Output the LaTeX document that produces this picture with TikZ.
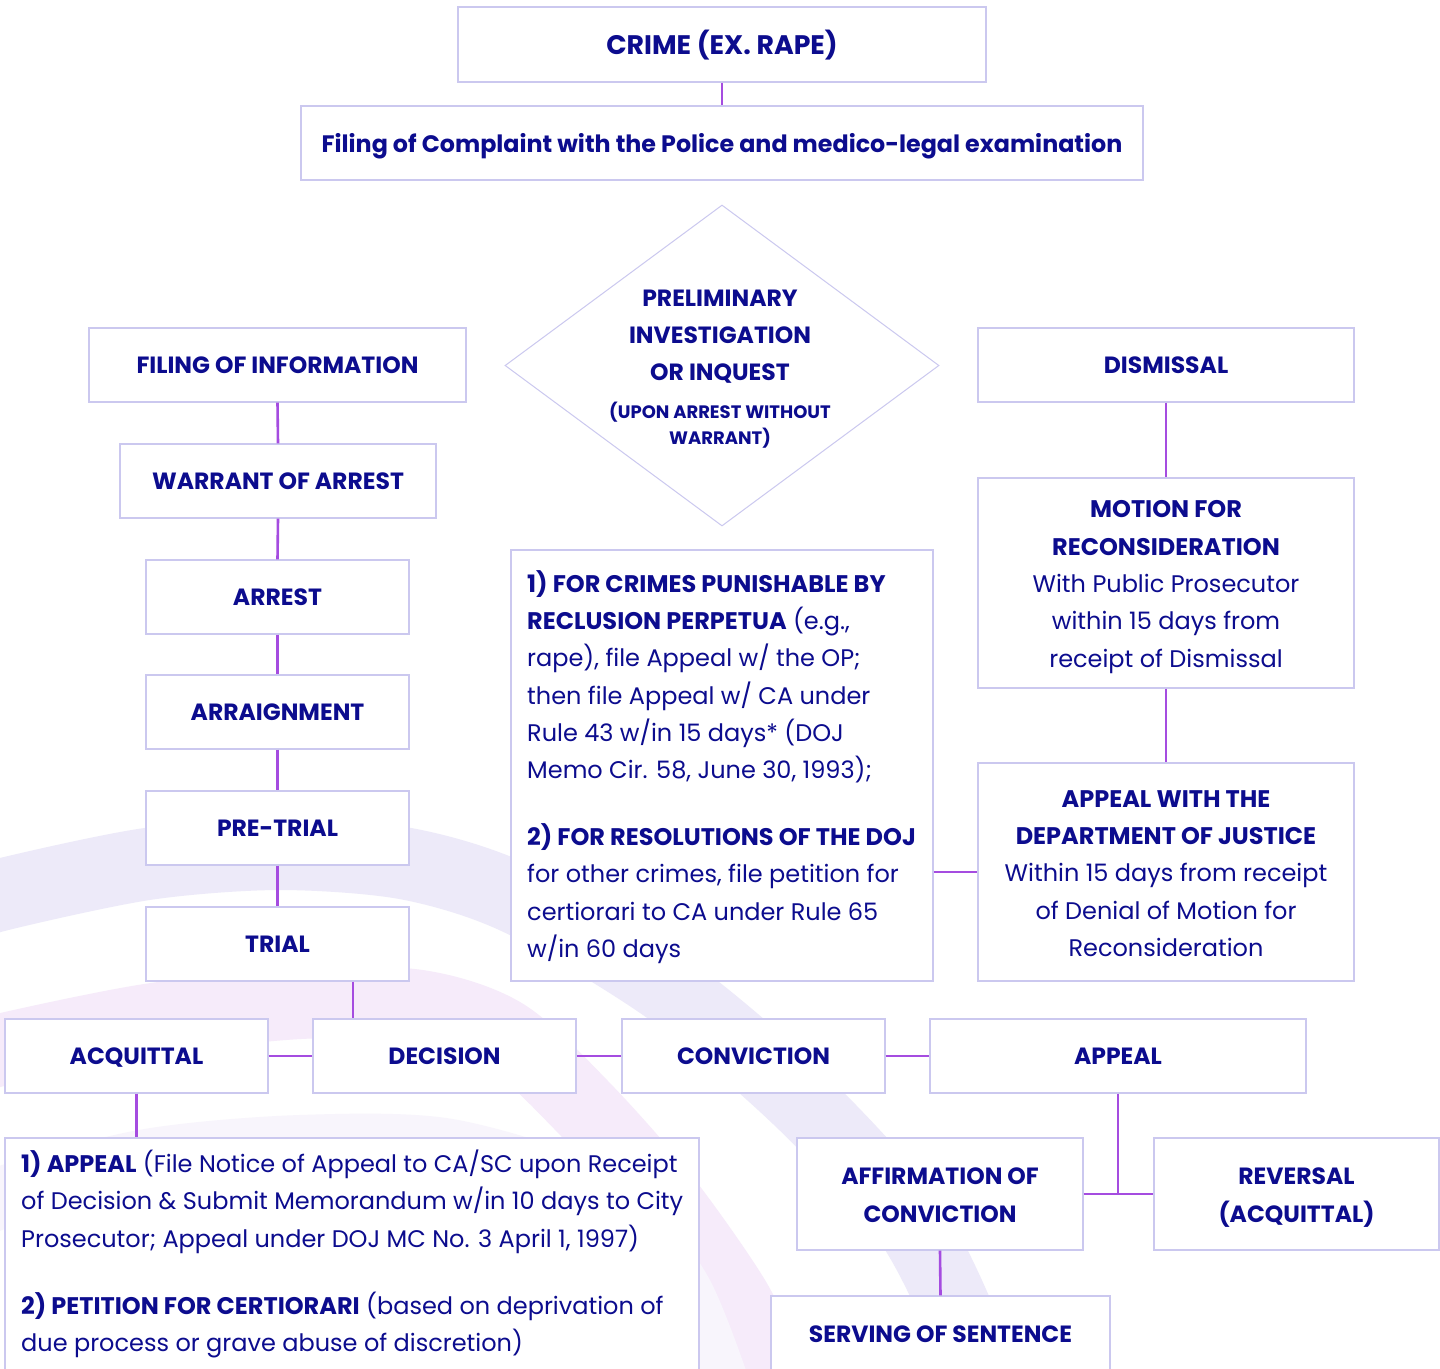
\documentclass[tikz,border=0pt]{standalone}
\usepackage{fontspec}
\setmainfont{Poppins}
\usetikzlibrary{shapes.geometric}
\definecolor{ctext}{HTML}{0C0C8E}
\definecolor{cbord}{HTML}{CBC8EF}
\definecolor{cline}{HTML}{A54CE0}
\definecolor{bandA}{HTML}{EDEAF9}
\definecolor{bandB}{HTML}{F6EBFA}
\definecolor{bandC}{HTML}{F8F5FC}
\begin{document}
\begin{tikzpicture}[x=1pt,y=-1pt,
  box/.style={draw=cbord, line width=1.4pt, fill=white, text=ctext, inner sep=0pt, align=center,
    font=\bfseries\fontsize{23.5}{37}\selectfont, text height=16.5pt, text depth=0pt},
  emptybox/.style={draw=cbord, line width=1.4pt, fill=white, inner sep=0pt},
  txtnode/.style={text=ctext, inner sep=0pt, font=\fontsize{24}{37.3}\selectfont},
  link/.style={draw=cline, line width=2.6pt},
  band/.style={line width=72pt, line cap=butt}]
\useasboundingbox (0,0) rectangle (1440,1368);
\clip (0,0) rectangle (1440,1368);
\fill[white] (0,0) rectangle (1440,1368);
% background bands
\draw[band, bandA] plot[smooth] coordinates {(-60,915) (0,895) (147,864) (280,854) (408,864) (520,900) (670,990) (800,1100) (905,1215) (960,1320) (990,1420)};
\draw[band, bandB] plot[smooth] coordinates {(-60,1068) (0,1050) (147,1020) (300,1003) (420,1006) (505,1035) (585,1109) (665,1200) (735,1300) (765,1368) (780,1420)};
\draw[band, bandC, line width=62pt] plot[smooth] coordinates {(-60,1225) (0,1198) (147,1160) (300,1146) (450,1150) (600,1200) (680,1290) (730,1420)};

% top
\node[box, minimum width=528, minimum height=75, font=\bfseries\fontsize{26.8}{34}\selectfont, text height=19pt] (crime) at (722,44.5) {CRIME (EX. RAPE)};
\node[emptybox, minimum width=842, minimum height=74] (foc) at (722,143) {};
\node[txtnode, font=\bfseries\fontsize{23.8}{37}\selectfont] (foctxt) at (722,146) {Filing of Complaint with the Police and medico-legal examination};

% diamond
\node[diamond, draw=cbord, line width=1pt, fill=white, minimum width=434, minimum height=321, inner sep=0pt] (prelim) at (722,365.5) {};
\node[txtnode, align=center, font=\bfseries\fontsize{23.5}{37}\selectfont] (prelimA) at (720,337) {PRELIMINARY\\INVESTIGATION\\OR INQUEST};
\node[txtnode, align=center, font=\bfseries\fontsize{18}{26}\selectfont] (prelimB) at (720,425.5) {(UPON ARREST WITHOUT\\WARRANT)};

% left column
\node[box, minimum width=377, minimum height=74] (finfo) at (277.5,365) {FILING OF INFORMATION};
\node[box, minimum width=316, minimum height=74] (warr) at (278,481) {WARRANT OF ARREST};
\node[box, minimum width=263, minimum height=74] (arrest) at (277.5,597) {ARREST};
\node[box, minimum width=263, minimum height=74] (arraign) at (277.5,712) {ARRAIGNMENT};
\node[box, minimum width=263, minimum height=74] (pretrial) at (277.5,828) {PRE-TRIAL};
\node[box, minimum width=263, minimum height=74] (trial) at (277.5,944) {TRIAL};

% middle box
\node[emptybox, minimum width=422, minimum height=431] (mid) at (722,765.5) {};
\node[txtnode, anchor=west, align=left] (midtxt) at (527,767) {\textbf{1) FOR CRIMES PUNISHABLE BY}\\
\textbf{RECLUSION PERPETUA} (e.g.,\\
rape), file Appeal w/ the OP;\\
then file Appeal w/ CA under\\
Rule 43 w/in 15 days* (DOJ\\
Memo Cir. 58, June 30, 1993);\\[29.7pt]
\textbf{2) FOR RESOLUTIONS OF THE DOJ}\\
for other crimes, file petition for\\
certiorari to CA under Rule 65\\
w/in 60 days};

% right column
\node[box, minimum width=376, minimum height=74] (dis) at (1166,365) {DISMISSAL};
\node[emptybox, minimum width=376, minimum height=210] (mfr) at (1166,583) {};
\node[txtnode, align=center] (mfrtxt) at (1166,587) {\textbf{MOTION FOR}\\\textbf{RECONSIDERATION}\\With Public Prosecutor\\within 15 days from\\receipt of Dismissal};
\node[emptybox, minimum width=376, minimum height=218] (adoj) at (1166,872) {};
\node[txtnode, align=center] (adojtxt) at (1166,873.5) {\textbf{APPEAL WITH THE}\\\textbf{DEPARTMENT OF JUSTICE}\\Within 15 days from receipt\\of Denial of Motion for\\Reconsideration};

% decision row
\node[box, minimum width=263, minimum height=74] (acq) at (136.5,1056) {ACQUITTAL};
\node[box, minimum width=263, minimum height=74] (dec) at (444.5,1056) {DECISION};
\node[box, minimum width=263, minimum height=74] (conv) at (753.5,1056) {CONVICTION};
\node[box, minimum width=376, minimum height=74] (app) at (1118,1056) {APPEAL};

% bottom
\node[emptybox, minimum width=694, minimum height=234] (low) at (352,1255) {};
\node[txtnode, anchor=west, align=left] (lowtxt) at (21,1254) {\textbf{1) APPEAL} (File Notice of Appeal to CA/SC upon Receipt\\
of Decision \& Submit Memorandum w/in 10 days to City\\
Prosecutor; Appeal under DOJ MC No. 3 April 1, 1997)\\[29.7pt]
\textbf{2) PETITION FOR CERTIORARI} (based on deprivation of\\
due process or grave abuse of discretion)};
\node[emptybox, minimum width=286, minimum height=112] (aff) at (940,1194) {};
\node[txtnode, align=center, font=\bfseries\fontsize{23.5}{38}\selectfont] (afftxt) at (940,1195) {AFFIRMATION OF\\CONVICTION};
\node[emptybox, minimum width=285, minimum height=112] (rev) at (1296.5,1194) {};
\node[txtnode, align=center, font=\bfseries\fontsize{23.5}{38}\selectfont] (revtxt) at (1296.5,1197.5) {REVERSAL\\(ACQUITTAL)};
\node[box, minimum width=339, minimum height=76] (serv) at (940.5,1334) {SERVING OF SENTENCE};

% connectors
\draw[link] (crime.south) -- (foc.north);
\draw[link] (finfo.south) -- (warr.north);
\draw[link] (warr.south) -- (arrest.north);
\draw[link] (arrest.south) -- (arraign.north);
\draw[link] (arraign.south) -- (pretrial.north);
\draw[link] (pretrial.south) -- (trial.north);
\draw[link] (353,0 |- trial.south) -- (353,0 |- dec.north);
\draw[link] (acq.east) -- (dec.west);
\draw[link] (dec.east) -- (conv.west);
\draw[link] (conv.east) -- (app.west);
\draw[link] (acq.south) -- (acq.south |- low.north);
\draw[link] (app.south) -- (app.south |- aff.east);
\draw[link] (aff.east) -- (rev.west);
\draw[link] (aff.south) -- (serv.north);
\draw[link] (dis.south) -- (mfr.north);
\draw[link] (mfr.south) -- (adoj.north);
\draw[link] (mid.east |- adoj.west) -- (adoj.west);
\end{tikzpicture}
\end{document}
